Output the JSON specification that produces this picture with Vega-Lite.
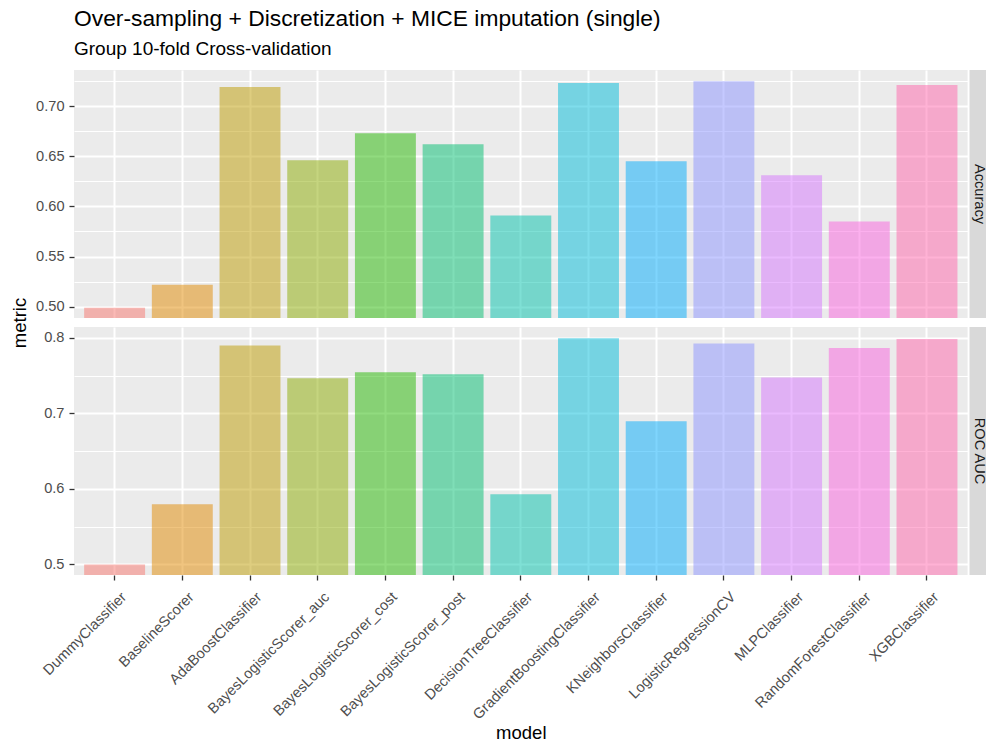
{
  "$schema": "https://vega.github.io/schema/vega-lite/v6.json",
  "background": "white",
  "padding": {"left": 10, "top": 8, "right": 0, "bottom": 0},
  "title": {
    "text": "Over-sampling + Discretization + MICE imputation (single)",
    "subtitle": "Group 10-fold Cross-validation",
    "anchor": "start",
    "frame": "group",
    "font": "Liberation Sans",
    "fontSize": 22.8,
    "fontWeight": "normal",
    "color": "#000000",
    "subtitleFont": "Liberation Sans",
    "subtitleFontSize": 19,
    "subtitleColor": "#000000",
    "subtitlePadding": 9,
    "offset": 11
  },
  "data": {
    "values": [
      {"model": "DummyClassifier", "metric": "Accuracy", "value": 0.499},
      {"model": "BaselineScorer", "metric": "Accuracy", "value": 0.522},
      {"model": "AdaBoostClassifier", "metric": "Accuracy", "value": 0.719},
      {"model": "BayesLogisticScorer_auc", "metric": "Accuracy", "value": 0.646},
      {"model": "BayesLogisticScorer_cost", "metric": "Accuracy", "value": 0.673},
      {"model": "BayesLogisticScorer_post", "metric": "Accuracy", "value": 0.662},
      {"model": "DecisionTreeClassifier", "metric": "Accuracy", "value": 0.591},
      {"model": "GradientBoostingClassifier", "metric": "Accuracy", "value": 0.723},
      {"model": "KNeighborsClassifier", "metric": "Accuracy", "value": 0.645},
      {"model": "LogisticRegressionCV", "metric": "Accuracy", "value": 0.7247},
      {"model": "MLPClassifier", "metric": "Accuracy", "value": 0.631},
      {"model": "RandomForestClassifier", "metric": "Accuracy", "value": 0.585},
      {"model": "XGBClassifier", "metric": "Accuracy", "value": 0.721},
      {"model": "DummyClassifier", "metric": "ROC AUC", "value": 0.5},
      {"model": "BaselineScorer", "metric": "ROC AUC", "value": 0.5795},
      {"model": "AdaBoostClassifier", "metric": "ROC AUC", "value": 0.7897},
      {"model": "BayesLogisticScorer_auc", "metric": "ROC AUC", "value": 0.7464},
      {"model": "BayesLogisticScorer_cost", "metric": "ROC AUC", "value": 0.7543},
      {"model": "BayesLogisticScorer_post", "metric": "ROC AUC", "value": 0.7517},
      {"model": "DecisionTreeClassifier", "metric": "ROC AUC", "value": 0.593},
      {"model": "GradientBoostingClassifier", "metric": "ROC AUC", "value": 0.7993},
      {"model": "KNeighborsClassifier", "metric": "ROC AUC", "value": 0.6894},
      {"model": "LogisticRegressionCV", "metric": "ROC AUC", "value": 0.7923},
      {"model": "MLPClassifier", "metric": "ROC AUC", "value": 0.7473},
      {"model": "RandomForestClassifier", "metric": "ROC AUC", "value": 0.7865},
      {"model": "XGBClassifier", "metric": "ROC AUC", "value": 0.7984}
    ]
  },
  "columns": 2,
  "spacing": {"row": 9, "column": 1.5},
  "bounds": "flush",
  "concat": [
    {
      "width": 893.6,
      "height": 248,
      "view": {"fill": "#EBEBEB", "stroke": null},
      "transform": [{"filter": "datum.metric == 'Accuracy'"}],
      "mark": {"type": "bar", "opacity": 0.5, "clip": true},
      "encoding": {
        "x": {
          "field": "model", "type": "nominal", "sort": null,
          "scale": {"paddingInner": 0.1, "paddingOuter": 0.15},
          "axis": {"labels": false, "ticks": false, "domain": false, "title": null, "grid": true}
        },
        "y": {
          "field": "value", "type": "quantitative",
          "scale": {"domain": [0.4888, 0.7359], "nice": false, "zero": false},
          "axis": {
            "values": [0.5, 0.525, 0.55, 0.575, 0.6, 0.625, 0.65, 0.675, 0.7, 0.725],
            "labelExpr": "round(datum.value*1000) % 50 == 0 ? format(datum.value, '.2f') : ''",
            "gridWidth": {"condition": {"test": "round(datum.value*1000) % 50 != 0", "value": 1}, "value": 2},
            "tickOpacity": {"condition": {"test": "round(datum.value*1000) % 50 != 0", "value": 0}, "value": 1},
            "title": "metric",
            "titleY": 252.5,
            "titlePadding": 6
          }
        },
        "color": {
          "field": "model", "type": "nominal", "sort": null, "legend": null,
          "scale": {
            "domain": ["DummyClassifier", "BaselineScorer", "AdaBoostClassifier", "BayesLogisticScorer_auc", "BayesLogisticScorer_cost", "BayesLogisticScorer_post", "DecisionTreeClassifier", "GradientBoostingClassifier", "KNeighborsClassifier", "LogisticRegressionCV", "MLPClassifier", "RandomForestClassifier", "XGBClassifier"],
            "range": ["#F8766D", "#E18A00", "#BE9C00", "#8CAB00", "#24B700", "#00BE70", "#00C1AB", "#00BBDA", "#00ACFC", "#8B93FF", "#D575FE", "#F962DD", "#FF65AC"]
          }
        }
      }
    },
    {
      "width": 16.5,
      "height": 248,
      "view": {"fill": "#D9D9D9", "stroke": null},
      "transform": [{"filter": "datum.metric == 'Accuracy' && datum.model == 'DummyClassifier'"}],
      "mark": {"type": "text", "angle": 90, "fontSize": 14.6, "color": "#1A1A1A", "align": "center", "baseline": "middle", "dy": -1},
      "encoding": {"text": {"field": "metric", "type": "nominal"}}
    },
    {
      "width": 893.6,
      "height": 248,
      "view": {"fill": "#EBEBEB", "stroke": null},
      "transform": [{"filter": "datum.metric == 'ROC AUC'"}],
      "mark": {"type": "bar", "opacity": 0.5, "clip": true},
      "encoding": {
        "x": {
          "field": "model", "type": "nominal", "sort": null,
          "scale": {"paddingInner": 0.1, "paddingOuter": 0.15},
          "axis": {"labelAngle": -45, "labelAlign": "right", "labelBaseline": "top", "labelPadding": 9, "labelOffset": 4, "title": "model", "grid": true, "titlePadding": 2}
        },
        "y": {
          "field": "value", "type": "quantitative",
          "scale": {"domain": [0.486, 0.8143], "nice": false, "zero": false},
          "axis": {
            "values": [0.5, 0.55, 0.6, 0.65, 0.7, 0.75, 0.8],
            "labelExpr": "round(datum.value*1000) % 100 == 0 ? format(datum.value, '.1f') : ''",
            "gridWidth": {"condition": {"test": "round(datum.value*1000) % 100 != 0", "value": 1}, "value": 2},
            "tickOpacity": {"condition": {"test": "round(datum.value*1000) % 100 != 0", "value": 0}, "value": 1},
            "title": null
          }
        },
        "color": {
          "field": "model", "type": "nominal", "sort": null, "legend": null,
          "scale": {
            "domain": ["DummyClassifier", "BaselineScorer", "AdaBoostClassifier", "BayesLogisticScorer_auc", "BayesLogisticScorer_cost", "BayesLogisticScorer_post", "DecisionTreeClassifier", "GradientBoostingClassifier", "KNeighborsClassifier", "LogisticRegressionCV", "MLPClassifier", "RandomForestClassifier", "XGBClassifier"],
            "range": ["#F8766D", "#E18A00", "#BE9C00", "#8CAB00", "#24B700", "#00BE70", "#00C1AB", "#00BBDA", "#00ACFC", "#8B93FF", "#D575FE", "#F962DD", "#FF65AC"]
          }
        }
      }
    },
    {
      "width": 16.5,
      "height": 248,
      "view": {"fill": "#D9D9D9", "stroke": null},
      "transform": [{"filter": "datum.metric == 'ROC AUC' && datum.model == 'DummyClassifier'"}],
      "mark": {"type": "text", "angle": 90, "fontSize": 14.6, "color": "#1A1A1A", "align": "center", "baseline": "middle", "dy": -1},
      "encoding": {"text": {"field": "metric", "type": "nominal"}}
    }
  ],
  "config": {
    "font": "Liberation Sans",
    "view": {"stroke": null},
    "axis": {
      "labelFont": "Liberation Sans",
      "titleFont": "Liberation Sans",
      "labelColor": "#4D4D4D",
      "labelFontSize": 14.6,
      "tickColor": "#333333",
      "tickSize": 5,
      "tickWidth": 1.3,
      "labelPadding": 5,
      "domain": false,
      "gridColor": "#FFFFFF",
      "gridWidth": 2,
      "gridOpacity": 1,
      "titleFontSize": 18.5,
      "titleFontWeight": "normal",
      "titleColor": "#000000"
    }
  }
}
